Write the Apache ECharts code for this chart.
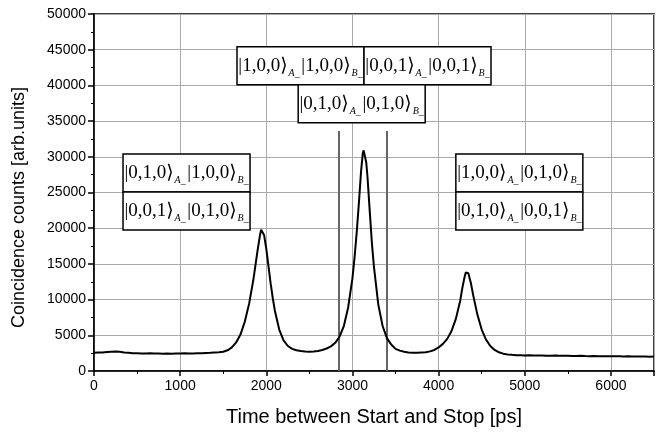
<!DOCTYPE html>
<html><head><meta charset="utf-8">
<script src="https://cdn.jsdelivr.net/npm/echarts@6/dist/echarts.min.js"></script>
<style>html,body{margin:0;padding:0;background:#fff}#c{width:669px;height:434px}</style>
</head><body><div id="c"></div>
<script>
// ---- data ----
const timePs = [0,50,100,150,200,250,300,350,400,450,500,550,600,650,700,750,800,850,900,950,1000,1050,1100,1150,1200,1250,1300,1350,1400,1450,1500,1550,1600,1650,1700,1750,1800,1850,1875,1900,1925,1940,1950,1960,1975,2000,2025,2050,2075,2100,2150,2200,2250,2300,2350,2400,2450,2500,2550,2600,2650,2700,2750,2800,2850,2900,2950,3000,3025,3050,3075,3100,3120,3130,3140,3160,3175,3200,3225,3250,3300,3350,3400,3450,3500,3550,3600,3650,3700,3750,3800,3850,3900,3950,4000,4050,4100,4150,4200,4250,4275,4300,4315,4330,4345,4375,4400,4450,4500,4550,4600,4650,4700,4750,4800,4850,4900,4950,5000,5050,5100,5150,5200,5250,5300,5350,5400,5450,5500,5550,5600,5650,5700,5750,5800,5850,5900,5950,6000,6050,6100,6150,6200,6250,6300,6350,6400,6450,6500];
const counts = [2550,2600,2580,2650,2700,2720,2680,2600,2550,2500,2480,2460,2450,2470,2440,2450,2420,2450,2430,2460,2450,2470,2440,2460,2480,2500,2530,2560,2600,2640,2700,2900,3300,4000,5100,6900,9400,12800,14900,17000,18900,19800,20000,19800,19000,17100,14700,12300,10200,8400,5800,4300,3500,3100,2900,2800,2720,2700,2720,2800,2950,3150,3450,3950,4800,6300,8900,13000,16000,19500,23600,28000,30500,30900,30700,29200,27100,22500,18000,14500,9300,6300,4600,3700,3100,2850,2700,2600,2560,2540,2580,2620,2750,2950,3300,3800,4500,5600,7300,9800,11600,13100,13800,14000,13700,12300,10700,7900,5800,4400,3500,2950,2620,2430,2320,2260,2220,2200,2180,2200,2170,2160,2180,2150,2140,2160,2130,2120,2140,2110,2100,2120,2090,2080,2100,2070,2080,2060,2070,2050,2060,2040,2050,2030,2040,2020,2030,2010,2020];
const gateTimes = [2840, 3400];
const gateTop = 33600;
// ket labels: [A state, B state] per row
const centerTopRow = [['1,0,0','1,0,0'],['0,0,1','0,0,1']];
const centerSecondRow = [['0,1,0','0,1,0']];
const leftBoxRows = [['0,1,0','1,0,0'],['0,0,1','0,1,0']];
const rightBoxRows = [['1,0,0','0,1,0'],['0,1,0','0,0,1']];

const sansFont = '"Liberation Sans", Arial, Helvetica, sans-serif';
const serifFont = '"Liberation Serif", "DejaVu Serif", serif';

const chart = echarts.init(document.getElementById('c'), null, {renderer:'canvas'});
const seriesData = timePs.map((t,i)=>[t, counts[i]]);

chart.setOption({
  animation:false,
  backgroundColor:'#fff',
  grid:{left:94,right:15,top:14,bottom:63,show:true,borderColor:'#000',borderWidth:1.5,backgroundColor:'transparent'},
  xAxis:{type:'value',min:0,max:6500,interval:1000,
    name:'Time between Start and Stop [ps]',nameLocation:'middle',nameGap:36,
    nameTextStyle:{fontFamily:sansFont,fontSize:20,color:'#000'},
    axisLine:{show:true,onZero:false,lineStyle:{color:'#000',width:1.5}},
    axisTick:{show:true,length:5,lineStyle:{color:'#000',width:1.5}},
    minorTick:{show:true,splitNumber:2,length:3,lineStyle:{color:'#000',width:1}},
    axisLabel:{fontFamily:sansFont,fontSize:14,color:'#000',margin:8,
      formatter:v=>(v%1000===0?String(v):'')},
    splitLine:{show:true,lineStyle:{color:'#aaa',width:1}}
  },
  yAxis:{type:'value',min:0,max:50000,interval:5000,
    name:'Coincidence counts [arb.units]',nameLocation:'middle',nameGap:66,
    nameTextStyle:{fontFamily:sansFont,fontSize:18,color:'#000',padding:[0,30,0,0]},
    axisLine:{show:true,onZero:false,lineStyle:{color:'#000',width:1.5}},
    axisTick:{show:true,length:6,lineStyle:{color:'#000',width:1.5}},
    minorTick:{show:true,splitNumber:2,length:3,lineStyle:{color:'#000',width:1}},
    axisLabel:{fontFamily:sansFont,fontSize:14,color:'#000',margin:8,formatter:v=>String(v)},
    splitLine:{show:true,lineStyle:{color:'#aaa',width:1}}
  },
  series:[{
    type:'line',data:seriesData,showSymbol:false,smooth:false,
    lineStyle:{color:'#000',width:2},z:5,
    markLine:{silent:true,symbol:'none',label:{show:false},
      lineStyle:{color:'#666',width:2,type:'solid'},
      data:gateTimes.map(t=>[{coord:[t,0]},{coord:[t,gateTop]}])
    }
  }]
});

function ketRow(pair){
  return '{k|\u007C'+pair[0]+'\u27E9}{s|A_}{g| }{k|\u007C'+pair[1]+'\u27E9}{s|B_}';
}
const rich = {
  k:{fontFamily:serifFont,fontSize:19,color:'#000',lineHeight:26,verticalAlign:'middle'},
  s:{fontFamily:serifFont,fontStyle:'italic',fontSize:10,color:'#000',lineHeight:26,padding:[15,0,0,1]},
  g:{fontSize:6,lineHeight:26}
};
// box anchors in data coordinates (top-left corner), widths in px
const boxW = 127, rowH = 38;
function boxElems(anchor, rows, horizontal){
  const p = chart.convertToPixel({gridIndex:0}, anchor);
  const els = [];
  rows.forEach((r,i)=>{
    const x = horizontal ? p[0]+i*boxW : p[0];
    const y = horizontal ? p[1] : p[1]+i*rowH;
    els.push({type:'rect',z:100,shape:{x:x,y:y,width:boxW,height:rowH},style:{fill:'#fff',stroke:'#000',lineWidth:1.5}});
    els.push({type:'text',z:101,x:x+boxW/2,y:y+rowH/2,style:{text:ketRow(r),rich:rich,align:'center',verticalAlign:'middle'}});
  });
  return els;
}
const g = [].concat(
  boxElems([1660,45400], centerTopRow, true),
  boxElems([2370,40100], centerSecondRow, false),
  boxElems([337,30400], leftBoxRows, false),
  boxElems([4200,30400], rightBoxRows, false)
);
chart.setOption({graphic:g});
</script></body></html>
